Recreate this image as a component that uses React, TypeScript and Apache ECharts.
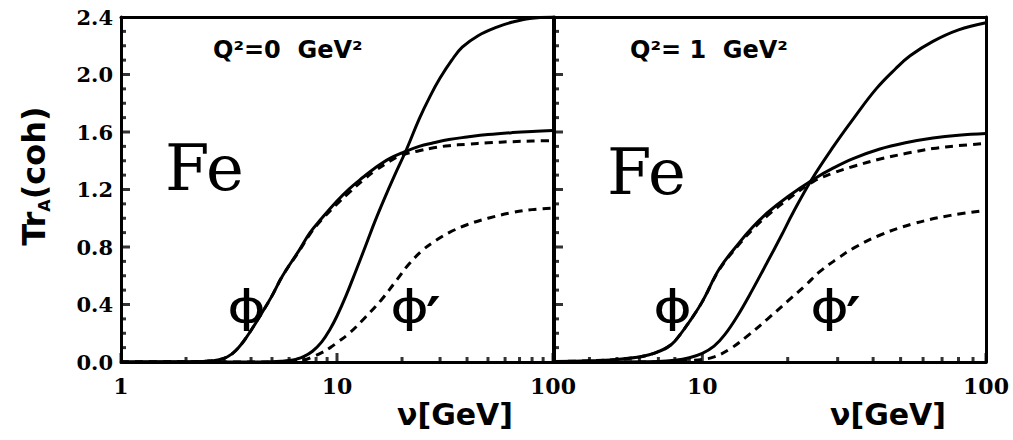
import React, { useEffect, useRef } from "react";
import * as echarts from "echarts";

// Energy grid (GeV) and coherent transparency values, Q^2 = 0 GeV^2 panel
const nuPhiQ0 = [1, 2, 2.5, 2.8, 3.1, 3.4, 3.8, 4.4, 5, 5.6, 6.7, 7.5, 8.5, 10, 11.4, 13.2, 15, 17.5, 20, 24, 28, 33, 40, 50, 65, 80, 100];
const trPhiQ0 = [0, 0.002, 0.006, 0.014, 0.035, 0.08, 0.17, 0.32, 0.46, 0.6, 0.78, 0.9, 1.0, 1.12, 1.205, 1.285, 1.35, 1.415, 1.455, 1.5, 1.525, 1.548, 1.565, 1.582, 1.596, 1.604, 1.61];

const nuPhiDashQ0 = [1, 2, 2.5, 2.8, 3.1, 3.4, 3.8, 4.4, 5, 5.6, 6.7, 7.5, 8.5, 10, 11.4, 13.2, 15, 17.5, 20, 24, 28, 33, 40, 50, 65, 80, 100];
const trPhiDashQ0 = [0, 0.002, 0.006, 0.014, 0.035, 0.08, 0.17, 0.32, 0.46, 0.6, 0.775, 0.89, 0.99, 1.1, 1.18, 1.265, 1.33, 1.395, 1.44, 1.47, 1.49, 1.505, 1.515, 1.525, 1.533, 1.537, 1.54];

const nuPhiPrimeQ0 = [1, 4, 5, 5.5, 6, 6.5, 7, 7.7, 8.5, 9.3, 10, 11, 12.2, 13.5, 15, 16.5, 18.5, 21, 24, 27, 30, 34, 38, 45, 55, 65, 78, 100];
const trPhiPrimeQ0 = [0, 0, 0.002, 0.005, 0.01, 0.02, 0.037, 0.075, 0.14, 0.23, 0.32, 0.46, 0.63, 0.8, 0.98, 1.13, 1.3, 1.48, 1.69, 1.85, 1.975, 2.1, 2.19, 2.27, 2.33, 2.365, 2.39, 2.4];

const nuPhiPrimeDashQ0 = [1, 5.5, 6.5, 7, 7.7, 8.5, 9.3, 10, 11.4, 13.5, 16, 19, 21.5, 25, 29, 33, 40, 50, 65, 80, 100];
const trPhiPrimeDashQ0 = [0, 0, 0.005, 0.012, 0.035, 0.065, 0.1, 0.135, 0.2, 0.31, 0.43, 0.575, 0.68, 0.78, 0.85, 0.9, 0.955, 1.0, 1.04, 1.06, 1.07];

// Q^2 = 1 GeV^2 panel
const nuPhiQ1 = [3, 4, 5, 6, 6.5, 7, 7.5, 8, 9, 10, 11.5, 13.5, 15, 17, 20, 24.6, 29, 34, 42, 52, 65, 80, 100];
const trPhiQ1 = [0.003, 0.008, 0.018, 0.035, 0.05, 0.072, 0.1, 0.145, 0.28, 0.42, 0.65, 0.83, 0.935, 1.04, 1.15, 1.27, 1.35, 1.415, 1.48, 1.525, 1.558, 1.578, 1.59];

const nuPhiDashQ1 = [3, 4, 5, 6, 6.5, 7, 7.5, 8, 9, 10, 11.5, 13.5, 15, 17, 20, 24.6, 29, 34, 42, 52, 65, 80, 100];
const trPhiDashQ1 = [0.003, 0.008, 0.018, 0.035, 0.05, 0.072, 0.1, 0.145, 0.28, 0.42, 0.645, 0.82, 0.92, 1.02, 1.13, 1.255, 1.315, 1.36, 1.41, 1.45, 1.485, 1.505, 1.52];

const nuPhiPrimeQ1 = [3, 7, 8, 9, 10, 11, 12, 13.3, 15, 16.9, 19, 20.9, 24.3, 29, 34, 41, 48, 54, 65, 80, 100];
const trPhiPrimeQ1 = [0, 0.004, 0.012, 0.03, 0.06, 0.11, 0.19, 0.32, 0.5, 0.69, 0.88, 1.04, 1.27, 1.5, 1.69, 1.9, 2.04, 2.13, 2.23, 2.31, 2.36];

const nuPhiPrimeDashQ1 = [3, 7, 8, 9, 10, 11, 12.5, 14.4, 17, 19.9, 23, 26, 30, 34, 42, 55, 75, 100];
const trPhiPrimeDashQ1 = [0, 0, 0.003, 0.009, 0.018, 0.035, 0.09, 0.18, 0.3, 0.42, 0.53, 0.63, 0.72, 0.79, 0.88, 0.96, 1.02, 1.055];

// Axis ranges and ticks
const xMinLeft = 1;
const xMinRight = 3;
const xMax = 100;
const xMajorTicksLeft = [1, 10, 100];
const xMinorTicksLeft = [2, 3, 4, 5, 6, 7, 8, 9, 20, 30, 40, 50, 60, 70, 80, 90];
const xMajorTicksRight = [10, 100];
const xMinorTicksRight = [4, 5, 6, 7, 8, 9, 20, 30, 40, 50, 60, 70, 80, 90];
const yMin = 0;
const yMax = 2.4;
const yStep = 0.4;
const yMajorTicks = [0.4, 0.8, 1.2, 1.6, 2.0];
const yMinorTicks = [0.1, 0.2, 0.3, 0.5, 0.6, 0.7, 0.9, 1.0, 1.1, 1.3, 1.4, 1.5, 1.7, 1.8, 1.9, 2.1, 2.2, 2.3];

const zip = (xs: number[], ys: number[]) => xs.map((x, i) => [x, ys[i]]);

const isPow10 = (v: number) => {
  const l = Math.log10(v);
  return Math.abs(l - Math.round(l)) < 1e-6;
};

const labelFont = {
  fontFamily: "DejaVu Serif",
  fontWeight: "bold" as const,
  color: "#000",
};

const frameLine = { show: true, onZero: false, lineStyle: { color: "#000", width: 3 } };

function curve(data: number[][], idx: number, dashed: boolean) {
  return {
    type: "line",
    xAxisIndex: idx,
    yAxisIndex: idx,
    data,
    smooth: 0.4,
    showSymbol: false,
    silent: true,
    z: 3,
    lineStyle: {
      color: "#000",
      width: 3,
      type: dashed ? [8, 6] : "solid",
    },
  };
}

// Tick marks drawn as small rectangular symbols at tick values
function xTickMarks(ticks: number[], idx: number, len: number) {
  return {
    type: "scatter",
    xAxisIndex: idx,
    yAxisIndex: idx,
    data: ticks.map((v) => [v, yMin]),
    symbol: "rect",
    symbolSize: [3, len],
    symbolOffset: [0, -len / 2],
    clip: false,
    silent: true,
    z: 6,
    itemStyle: { color: "#000" },
  };
}

function yTickMarks(ticks: number[], idx: number, xAt: number, len: number) {
  return {
    type: "scatter",
    xAxisIndex: idx,
    yAxisIndex: idx,
    data: ticks.map((v) => [xAt, v]),
    symbol: "rect",
    symbolSize: [len, 3],
    symbolOffset: [len / 2, 0],
    clip: false,
    silent: true,
    z: 6,
    itemStyle: { color: "#000" },
  };
}

function xAxis(idx: number, min: number) {
  return {
    type: "log",
    logBase: 10,
    gridIndex: idx,
    min,
    max: xMax,
    axisLine: frameLine,
    axisTick: { show: false },
    minorTick: { show: false },
    splitLine: { show: false },
    axisLabel: {
      ...labelFont,
      fontSize: 22,
      margin: 13,
      showMinLabel: true,
      showMaxLabel: true,
      formatter: (v: number) => (isPow10(v) ? String(Math.round(v)) : ""),
    },
  };
}

// Top border of a panel
function xAxisTop(idx: number, min: number) {
  return {
    type: "log",
    logBase: 10,
    gridIndex: idx,
    position: "top",
    min,
    max: xMax,
    axisLine: frameLine,
    axisTick: { show: false },
    axisLabel: { show: false },
    splitLine: { show: false },
  };
}

function yAxis(idx: number, labels: boolean) {
  return {
    type: "value",
    gridIndex: idx,
    min: yMin,
    max: yMax,
    interval: yStep,
    axisLine: frameLine,
    axisTick: { show: false },
    minorTick: { show: false },
    splitLine: { show: false },
    axisLabel: {
      show: labels,
      ...labelFont,
      fontSize: 21,
      margin: 8,
      formatter: (v: number) => v.toFixed(1),
    },
  };
}

// Right border of a panel
function yAxisRight(idx: number) {
  return {
    type: "value",
    gridIndex: idx,
    position: "right",
    min: yMin,
    max: yMax,
    interval: yStep,
    axisLine: frameLine,
    axisTick: { show: false },
    axisLabel: { show: false },
    splitLine: { show: false },
  };
}

const annotation = (text: string, x: number, y: number, style: any, extra: any = {}) => ({
  type: "text",
  x,
  y,
  silent: true,
  ...extra,
  style: { text, fill: "#000", verticalAlign: "middle", ...style },
});

export default function App() {
  const ref = useRef<HTMLDivElement>(null);

  useEffect(() => {
    if (!ref.current) return;
    const chart = echarts.init(ref.current, undefined, { renderer: "svg" });

    const titleStyle = { font: "bold 30px 'DejaVu Sans'", align: "center" };
    const qStyle = { font: "bold 24px 'DejaVu Sans'" };
    const feStyle = { font: "64px 'DejaVu Serif'" };
    const phiStyle = { font: "44px 'DejaVu Sans'" };
    const primeStyle = { font: "bold 56px 'DejaVu Sans'", verticalAlign: "top" };
    const phiScale = { scaleX: 1.35 };

    chart.setOption({
      animation: false,
      backgroundColor: "#fff",
      grid: [
        { left: 121, top: 17, width: 432, height: 345, show: false },
        { left: 554, top: 17, width: 432, height: 345, show: false },
      ],
      xAxis: [xAxis(0, xMinLeft), xAxis(1, xMinRight), xAxisTop(0, xMinLeft), xAxisTop(1, xMinRight)],
      yAxis: [yAxis(0, true), yAxis(1, false), yAxisRight(0), yAxisRight(1)],
      series: [
        curve(zip(nuPhiQ0, trPhiQ0), 0, false),
        curve(zip(nuPhiDashQ0, trPhiDashQ0), 0, true),
        curve(zip(nuPhiPrimeQ0, trPhiPrimeQ0), 0, false),
        curve(zip(nuPhiPrimeDashQ0, trPhiPrimeDashQ0), 0, true),
        curve(zip(nuPhiQ1, trPhiQ1), 1, false),
        curve(zip(nuPhiDashQ1, trPhiDashQ1), 1, true),
        curve(zip(nuPhiPrimeQ1, trPhiPrimeQ1), 1, false),
        curve(zip(nuPhiPrimeDashQ1, trPhiPrimeDashQ1), 1, true),
        xTickMarks(xMajorTicksLeft, 0, 9),
        xTickMarks(xMinorTicksLeft, 0, 5),
        xTickMarks(xMajorTicksRight, 1, 9),
        xTickMarks(xMinorTicksRight, 1, 5),
        yTickMarks(yMajorTicks, 0, xMinLeft, 9),
        yTickMarks(yMinorTicks, 0, xMinLeft, 5),
        yTickMarks(yMajorTicks, 1, xMinRight, 9),
        yTickMarks(yMinorTicks, 1, xMinRight, 5),
      ],
      graphic: [
        {
          type: "text",
          x: 34,
          y: 176,
          rotation: Math.PI / 2,
          silent: true,
          style: {
            text: "{t|Tr}{s|A}{t|(coh)}",
            align: "center",
            verticalAlign: "middle",
            fill: "#000",
            rich: {
              t: { font: "bold 32px 'DejaVu Sans'", lineHeight: 36, fill: "#000" },
              s: { font: "bold 16px 'DejaVu Sans'", lineHeight: 18, verticalAlign: "bottom", fill: "#000" },
            },
          },
        },
        annotation("\u03BD[GeV]", 455, 414, titleStyle),
        annotation("\u03BD[GeV]", 888, 414, titleStyle),
        annotation("Q\u00B2=0  GeV\u00B2", 213, 50, qStyle),
        annotation("Q\u00B2= 1  GeV\u00B2", 630, 50, qStyle),
        annotation("Fe", 165, 168, feStyle),
        annotation("Fe", 607, 172, feStyle),
        annotation("\u03D5", 227, 306, phiStyle, phiScale),
        annotation("\u03D5", 390, 306, phiStyle, phiScale),
        annotation("\u2032", 426, 288, primeStyle),
        annotation("\u03D5", 653, 306, phiStyle, phiScale),
        annotation("\u03D5", 810, 306, phiStyle, phiScale),
        annotation("\u2032", 846, 288, primeStyle),
      ],
    });

    return () => chart.dispose();
  }, []);

  return (
    <div
      ref={ref}
      style={{ position: "fixed", left: 0, top: 0, width: 1013, height: 440, background: "#fff" }}
    />
  );
}
